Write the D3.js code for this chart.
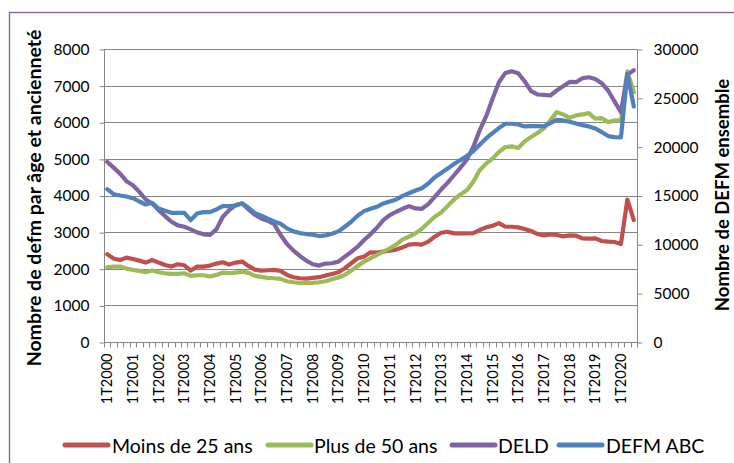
<!DOCTYPE html>
<html>
<head>
<meta charset="utf-8">
<script src="https://cdn.jsdelivr.net/npm/d3@7"></script>
<style>
  body { margin: 0; background: #fff; }
  text { font-family: Lato, "Open Sans", sans-serif; fill: #000; }
</style>
</head>
<body>
<div id="chart-container"></div>
<script>
// quarters 1T2000 .. 3T2020
const years = d3.range(2000, 2021);
const categories = years.flatMap(y => [1, 2, 3, 4].map(q => `${q}T${y}`)).slice(0, 83);

// left axis series
const moins25 = [
    2394, 2277, 2240, 2304, 2268, 2222, 2168, 2240, 2168, 2104,
    2059, 2122, 2095, 1950, 2059, 2059, 2086, 2141, 2177, 2113,
    2168, 2195, 2077, 1977, 1950, 1959, 1968, 1941, 1832, 1769,
    1741, 1732, 1751, 1769, 1814, 1859, 1905, 2014, 2150, 2286,
    2331, 2449, 2440, 2467, 2494, 2522, 2585, 2658, 2676, 2658,
    2739, 2876, 2984, 3011, 2966, 2966, 2966, 2975, 3057, 3129,
    3175, 3247, 3147, 3147, 3129, 3084, 3030, 2948, 2911, 2939,
    2921, 2884, 2911, 2902, 2830, 2821, 2830, 2757, 2739, 2730,
    2676, 3891, 3329
];
const plus50 = [
    2041, 2059, 2059, 2004, 1968, 1941, 1905, 1950, 1905, 1877,
    1859, 1859, 1877, 1805, 1823, 1823, 1787, 1832, 1896, 1877,
    1896, 1923, 1887, 1805, 1778, 1751, 1741, 1723, 1660, 1632,
    1614, 1605, 1614, 1632, 1660, 1714, 1760, 1832, 1950, 2077,
    2195, 2286, 2376, 2467, 2558, 2658, 2803, 2875, 2966, 3093,
    3256, 3419, 3537, 3710, 3891, 4027, 4145, 4372, 4689, 4871,
    5007, 5188, 5324, 5342, 5297, 5478, 5596, 5705, 5832, 6050,
    6277, 6213, 6122, 6186, 6213, 6250, 6095, 6113, 6004, 6050,
    6050, 7392, 6821
];
const deld = [
    4916, 4762, 4598, 4390, 4281, 4100, 3891, 3782, 3601, 3438,
    3283, 3184, 3147, 3075, 2993, 2939, 2921, 3075, 3420, 3601,
    3737, 3782, 3619, 3474, 3374, 3311, 3220, 2921, 2676, 2494,
    2349, 2222, 2122, 2086, 2141, 2150, 2195, 2331, 2458, 2603,
    2784, 2940, 3120, 3329, 3465, 3556, 3637, 3710, 3646, 3637,
    3764, 3964, 4163, 4345, 4553, 4762, 4979, 5324, 5778, 6159,
    6639, 7093, 7347, 7392, 7338, 7120, 6848, 6758, 6749, 6731,
    6867, 6984, 7102, 7093, 7202, 7229, 7183, 7066, 6867, 6567,
    6276, 7300, 7420
];
// right axis series
const defmAbc = [
    15645, 15134, 14998, 14896, 14726, 14386, 14080, 14250, 13672, 13434,
    13230, 13230, 13230, 12482, 13162, 13298, 13298, 13570, 13910, 13910,
    13978, 14216, 13740, 13196, 12924, 12618, 12346, 12108, 11631, 11325,
    11155, 11053, 10985, 10849, 10917, 11087, 11325, 11801, 12312, 12924,
    13400, 13640, 13842, 14182, 14386, 14590, 14964, 15236, 15509, 15747,
    16223, 16869, 17311, 17753, 18229, 18637, 19046, 19522, 20202, 20848,
    21392, 21902, 22345, 22345, 22277, 22072, 22106, 22106, 22072, 22413,
    22753, 22685, 22549, 22379, 22209, 22072, 21868, 21494, 21086, 20984,
    20950, 27446, 24113
];

const leftTicks = [0, 1000, 2000, 3000, 4000, 5000, 6000, 7000, 8000];
const rightTicks = [0, 5000, 10000, 15000, 20000, 25000, 30000];

const series = [
    { name: "Moins de 25 ans", values: moins25, color: "#C0504D", axis: "left" },
    { name: "Plus de 50 ans", values: plus50, color: "#9BBB59", axis: "left" },
    { name: "DELD", values: deld, color: "#8064A2", axis: "left" },
    { name: "DEFM ABC", values: defmAbc, color: "#4F81BD", axis: "right" },
];

const width = 734;
const height = 463;
const plot = { left: 104, right: 637, top: 49, bottom: 342 };
const gridColor = "#868686";

const svg = d3.select("#chart-container")
    .append("svg")
    .attr("width", width)
    .attr("height", height);

// chart frame (only top and left edges are visible)
svg.append("rect")
    .attr("x", 9.5).attr("y", 12.5)
    .attr("width", width + 20).attr("height", height + 20)
    .attr("fill", "none")
    .attr("stroke", "#7E60A0")
    .attr("stroke-width", 1.3);

const x = d3.scaleBand()
    .domain(categories)
    .range([plot.left, plot.right]);

const yLeft = d3.scaleLinear().domain([0, 8000]).range([plot.bottom, plot.top]);
const yRight = d3.scaleLinear().domain([0, 30000]).range([plot.bottom, plot.top]);

// horizontal gridlines
svg.append("g")
    .selectAll("line")
    .data(leftTicks.slice(1))
    .join("line")
    .attr("x1", plot.left).attr("x2", plot.right)
    .attr("y1", d => Math.round(yLeft(d)) + 0.5)
    .attr("y2", d => Math.round(yLeft(d)) + 0.5)
    .attr("stroke", gridColor);

// left axis
const leftAxis = svg.append("g")
    .attr("transform", `translate(${plot.left + 0.5},0.5)`)
    .call(d3.axisLeft(yLeft).tickValues(leftTicks).tickSize(5).tickPadding(10).tickFormat(d3.format("d")));

// right axis
const rightAxis = svg.append("g")
    .attr("transform", `translate(${plot.right + 0.5},0.5)`)
    .call(d3.axisRight(yRight).tickValues(rightTicks).tickSize(5).tickPadding(11).tickFormat(d3.format("d")));

[leftAxis, rightAxis].forEach(g => {
    g.select(".domain").attr("stroke", gridColor).attr("d", `M0,${plot.top}V${plot.bottom}`);
    g.selectAll(".tick line").attr("stroke", gridColor);
    g.selectAll("text").attr("font-size", 15.5).attr("font-family", "Lato").attr("fill", "#000");
});

// bottom axis, labels on the first quarter of each year
const bottomAxis = svg.append("g")
    .attr("transform", `translate(0,${plot.bottom + 0.5})`)
    .call(d3.axisBottom(x)
        .tickValues(categories.filter(c => c.startsWith("1T")))
        .tickSize(0)
        .tickSizeOuter(0));

bottomAxis.select(".domain")
    .attr("stroke", gridColor)
    .attr("d", `M${plot.left},0H${plot.right + 1}`);

bottomAxis.selectAll("text")
    .attr("font-size", 14.5)
    .attr("font-family", "Lato")
    .attr("fill", "#000")
    .attr("text-anchor", "end")
    .attr("transform", "rotate(-90)")
    .attr("x", -11)
    .attr("y", 0)
    .attr("dy", "0.35em");

// tick marks between categories
const edges = categories.map(c => x(c)).concat([plot.right]);
bottomAxis.append("g")
    .selectAll("line")
    .data(edges)
    .join("line")
    .attr("x1", d => Math.round(d) + 0.5)
    .attr("x2", d => Math.round(d) + 0.5)
    .attr("y1", 0).attr("y2", 5)
    .attr("stroke", gridColor);

// series lines
series.forEach(s => {
    const y = s.axis === "left" ? yLeft : yRight;
    const line = d3.line()
        .x((d, i) => x(categories[i]) + x.bandwidth() / 2)
        .y(d => y(d));
    svg.append("path")
        .datum(s.values)
        .attr("fill", "none")
        .attr("stroke", s.color)
        .attr("stroke-width", 4.2)
        .attr("stroke-linejoin", "round")
        .attr("stroke-linecap", "round")
        .attr("d", line);
});

// axis titles
svg.append("text")
    .attr("transform", "translate(33,198) rotate(-90)")
    .attr("text-anchor", "middle")
    .attr("dominant-baseline", "central")
    .attr("font-size", 19.5)
    .attr("font-weight", "bold")
    .text("Nombre de defm par âge et ancienneté");

svg.append("text")
    .attr("transform", "translate(722,195) rotate(-90)")
    .attr("text-anchor", "middle")
    .attr("dominant-baseline", "central")
    .attr("font-size", 18.5)
    .attr("font-weight", "bold")
    .text("Nombre de DEFM ensemble");

// legend
const legendPos = [
    { x1: 65, x2: 108, tx: 112 },
    { x1: 268, x2: 311, tx: 314 },
    { x1: 452, x2: 495, tx: 498 },
    { x1: 559, x2: 602, tx: 606 },
];
const legendY = 445;
const legend = svg.append("g")
    .selectAll("g")
    .data(series)
    .join("g");

legend.append("line")
    .attr("x1", (d, i) => legendPos[i].x1)
    .attr("x2", (d, i) => legendPos[i].x2)
    .attr("y1", legendY).attr("y2", legendY)
    .attr("stroke", d => d.color)
    .attr("stroke-width", 5)
    .attr("stroke-linecap", "round");

legend.append("text")
    .attr("x", (d, i) => legendPos[i].tx)
    .attr("y", legendY)
    .attr("dominant-baseline", "central")
    .attr("font-size", 19.5)
    .text(d => d.name);
</script>
</body>
</html>
